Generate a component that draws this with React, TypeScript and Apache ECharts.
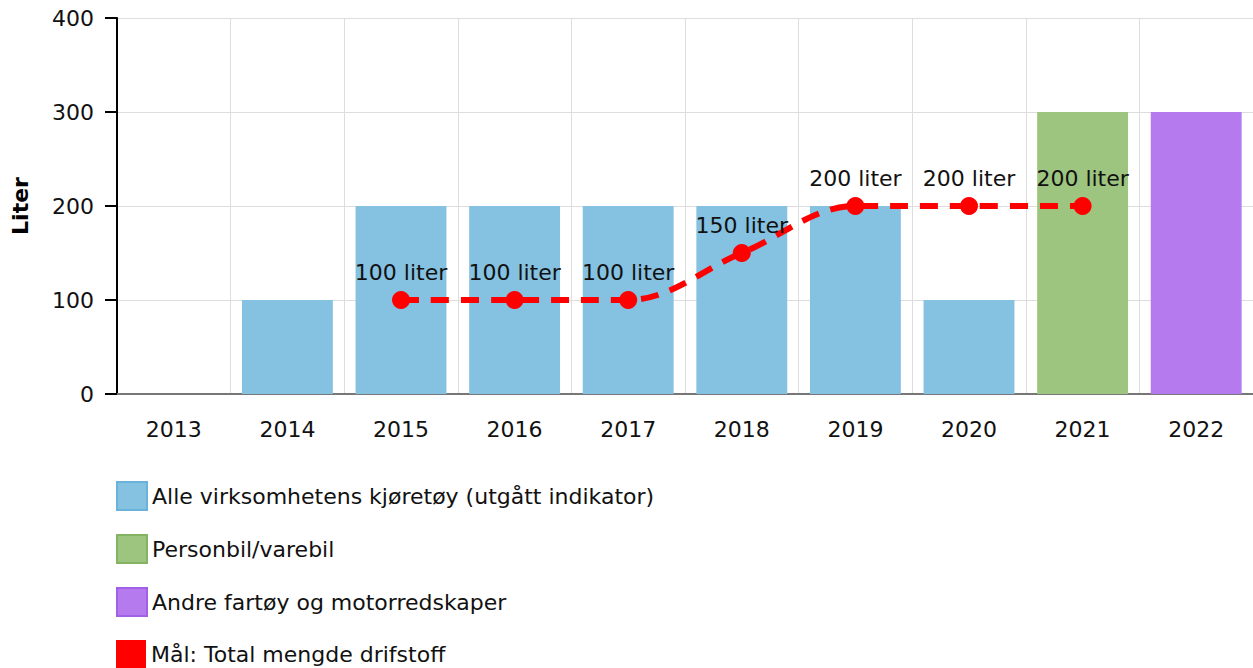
import React, { useEffect, useRef } from "react";
import * as echarts from "echarts";

const years = ["2013", "2014", "2015", "2016", "2017", "2018", "2019", "2020", "2021", "2022"];
const alleValues = [null, 100, 200, 200, 200, 200, 200, 100, null, null];
const personbilValues = [null, null, null, null, null, null, null, null, 300, null];
const andreValues = [null, null, null, null, null, null, null, null, null, 300];
const malValues = [null, null, 100, 100, 100, 150, 200, 200, 200, null];

const names = [
  "Alle virksomhetens kjøretøy (utgått indikator)",
  "Personbil/varebil",
  "Andre fartøy og motorredskaper",
  "Mål: Total mengde drifstoff",
];

const FONT = "DejaVu Sans, Verdana, sans-serif";
const FS = 22;

const legendStyles = [
  { color: "#85C1E1", borderColor: "#6BB2DB", borderWidth: 2 },
  { color: "#9DC57F", borderColor: "#84B463", borderWidth: 2 },
  { color: "#B57BEE", borderColor: "#A160E6", borderWidth: 2 },
  { color: "#FF0000", borderWidth: 0 },
];

export default function App() {
  const ref = useRef<HTMLDivElement>(null);
  useEffect(() => {
    document.body.style.margin = "0";
    const chart = echarts.init(ref.current!, null, { renderer: "svg" });
    chart.setOption({
      animation: false,
      textStyle: { fontFamily: FONT },
      grid: { left: 117, right: 0, top: 18, bottom: 274 },
      legend: names.map((n, i) => ({
        orient: "vertical",
        left: 116,
        top: 481 + i * 53,
        padding: 0,
        itemWidth: 30,
        itemHeight: 28,
        icon: "rect",
        textStyle: { fontSize: FS, color: "#111", fontFamily: FONT },
        data: [{ name: n, itemStyle: legendStyles[i], lineStyle: { opacity: 0 } }],
      })),
      xAxis: {
        type: "category",
        data: years,
        axisLine: { lineStyle: { color: "#777", width: 2 } },
        axisTick: { alignWithLabel: true, length: 8, lineStyle: { color: "#999" } },
        axisLabel: { fontSize: FS, color: "#111", margin: 24, fontFamily: FONT },
        splitLine: { show: true, lineStyle: { color: "#ddd" } },
      },
      yAxis: {
        type: "value",
        min: 0,
        max: 400,
        interval: 100,
        name: "Liter",
        nameLocation: "middle",
        nameGap: 86,
        nameTextStyle: { fontSize: FS, fontWeight: "bold", color: "#000", fontFamily: FONT },
        axisLine: { show: true, lineStyle: { color: "#000", width: 2 } },
        axisTick: { show: true, length: 12, lineStyle: { color: "#000", width: 2 } },
        axisLabel: { fontSize: FS, color: "#111", margin: 23, fontFamily: FONT },
        splitLine: { show: true, lineStyle: { color: "#ddd" } },
      },
      series: [
        { name: names[0], type: "bar", stack: "a", barWidth: "80%", data: alleValues, itemStyle: { color: "#85C1E1" } },
        { name: names[1], type: "bar", stack: "a", barWidth: "80%", data: personbilValues, itemStyle: { color: "#9DC57F" } },
        { name: names[2], type: "bar", stack: "a", barWidth: "80%", data: andreValues, itemStyle: { color: "#B57BEE" } },
        {
          name: names[3],
          type: "line",
          data: malValues,
          smooth: 0.35,
          symbol: "circle",
          symbolSize: 18,
          z: 5,
          itemStyle: { color: "#FF0000" },
          lineStyle: { color: "#FF0000", width: 6, type: [18, 12] },
          label: {
            show: true,
            position: "top",
            distance: 8,
            fontSize: FS,
            color: "#111",
            fontFamily: FONT,
            formatter: (p: any) => `${p.value} liter`,
          },
        },
      ],
    });
    return () => chart.dispose();
  }, []);
  return <div ref={ref} style={{ width: 1253, height: 668 }} />;
}
